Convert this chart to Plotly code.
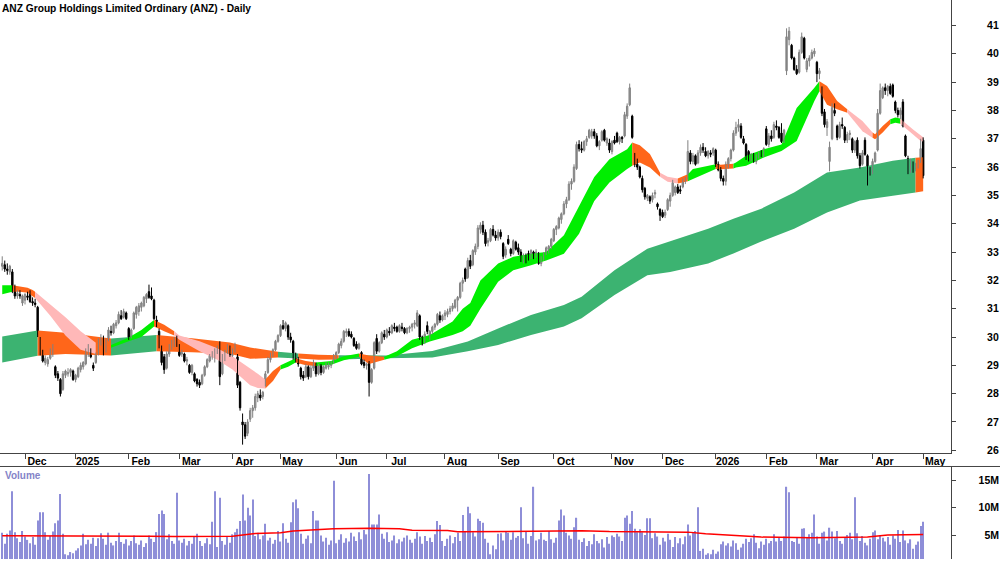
import plotly.graph_objects as go

# ---------------- price data (one bar per ASX trading day, index 0 = 19 Nov 2024) ----------------
OPEN = [
    32.5, 32.55, 32.4, 32.3, 32.3, 31.75, 31.45, 31.5, 31.2, 31.3,
    31.45, 31.55, 31.25, 31.2, 31.05, 29.9, 29.5, 29.1, 29.05, 29.25,
    29.4, 28.95, 28.7, 28.5, 28.15, 28.65, 28.7, 28.75, 28.8, 28.5,
    28.6, 28.85, 28.95, 29.05, 29.4, 29.55, 29.0, 29.1, 29.4, 29.85,
    29.95, 29.5, 29.9, 30.2, 30.15, 30.4, 30.5, 30.75, 30.7, 30.85,
    30.3, 30.0, 30.3, 30.8, 30.9, 31.05, 31.1, 31.35, 31.6, 31.45,
    31.3, 30.6, 30.2, 29.65, 29.3, 28.9, 29.4, 29.65, 29.75, 30.0,
    29.7, 29.4, 29.4, 29.15, 29.0, 28.75, 28.7, 28.5, 28.4, 28.35,
    28.65, 28.95, 29.15, 29.3, 29.4, 29.55, 29.7, 28.7, 29.25, 29.45,
    29.65, 29.35, 29.55, 29.3, 28.4, 27.0, 26.9, 26.6, 27.1, 27.4,
    27.5, 27.85, 27.95, 27.9, 28.3, 28.75, 29.2, 29.35, 29.55, 29.85,
    30.05, 30.4, 30.3, 30.4, 30.0, 29.85, 29.3, 29.2, 28.9, 28.65,
    28.6, 28.95, 28.6, 28.9, 29.05, 28.7, 29.0, 28.75, 28.9, 28.95,
    29.0, 29.1, 29.35, 29.45, 29.7, 29.85, 30.15, 30.2, 30.1, 29.95,
    29.75, 29.6, 29.45, 29.1, 29.0, 29.1, 28.4, 28.9, 29.95, 29.5,
    29.8, 30.1, 30.0, 30.2, 30.15, 30.35, 30.35, 30.2, 30.35, 30.3,
    30.15, 30.3, 30.35, 30.45, 30.4, 30.75, 30.0, 29.8, 30.4, 30.0,
    30.2, 30.35, 30.45, 30.75, 30.6, 30.75, 30.8, 30.9, 31.0, 31.05,
    31.3, 31.4, 31.9, 32.4, 32.1, 32.7, 32.55, 33.0, 33.2, 33.8,
    33.95, 33.7, 33.35, 33.4, 33.8, 33.6, 33.5, 33.7, 33.3, 32.9,
    33.45, 33.1, 32.95, 33.35, 33.15, 33.0, 32.7, 32.85, 32.95, 32.8,
    33.0, 32.85, 32.95, 32.6, 32.75, 32.95, 33.1, 33.2, 33.4, 33.8,
    33.85, 34.15, 34.35, 34.7, 34.85, 35.4, 35.5, 35.95, 36.8, 36.65,
    36.6, 36.9, 37.05, 37.1, 37.25, 37.1, 36.75, 36.95, 37.3, 36.85,
    36.85, 36.55, 36.95, 37.2, 36.9, 37.05, 37.1, 37.8, 38.2, 37.8,
    36.4, 36.1, 36.0, 35.6, 35.25, 34.9, 34.95, 34.85, 35.05, 34.7,
    34.5, 34.4, 34.3, 34.5, 34.8, 35.0, 35.1, 35.3, 35.2, 35.3,
    35.5, 35.6, 36.5, 36.2, 36.4, 36.15, 36.5, 36.7, 36.55, 36.4,
    36.5, 36.5, 36.6, 36.1, 35.9, 35.6, 35.5, 36.05, 36.3, 36.6,
    37.2, 37.4, 37.45, 37.0, 36.8, 36.55, 36.3, 36.4, 36.2, 36.4,
    36.55, 36.4, 37.35, 36.8, 37.1, 37.05, 37.45, 37.4, 37.2, 36.9,
    39.4, 40.5, 40.3, 39.85, 39.45, 39.35, 40.05, 40.55, 39.45, 39.75,
    39.85, 40.0, 39.7, 39.3, 38.8, 37.95, 37.4, 36.2, 37.0, 38.0,
    37.45, 37.05, 37.5, 37.4, 36.95, 37.15, 37.0, 36.6, 36.95, 36.4,
    36.1, 36.95, 36.4, 35.85, 35.8, 36.2, 36.6, 37.9, 38.45, 38.8,
    38.7, 38.85, 38.9, 38.3, 38.0, 37.85, 38.3, 37.1, 36.3, 35.95,
    36.1, 35.95, 36.1, 36.2, 36.95,
]
HIGH = [
    32.85, 32.7, 32.6, 32.55, 32.4, 31.85, 31.65, 31.65, 31.5, 31.55,
    31.6, 31.65, 31.4, 31.35, 31.1, 30.0, 29.55, 29.35, 29.3, 29.6,
    29.75, 29.0, 28.8, 28.55, 28.8, 28.85, 28.9, 28.9, 28.85, 28.7,
    28.95, 29.1, 29.15, 29.6, 29.75, 29.6, 29.1, 29.45, 29.95, 30.1,
    30.05, 29.95, 30.35, 30.4, 30.5, 30.6, 30.9, 30.95, 31.0, 30.9,
    30.35, 30.3, 30.9, 31.1, 31.2, 31.25, 31.45, 31.55, 31.85, 31.75,
    31.35, 30.75, 30.3, 29.7, 29.4, 29.5, 29.75, 29.9, 30.0, 30.05,
    29.75, 29.55, 29.45, 29.3, 29.05, 29.05, 28.75, 28.55, 28.5, 28.7,
    29.0, 29.25, 29.4, 29.5, 29.6, 29.7, 29.85, 29.4, 29.55, 29.75,
    29.7, 29.6, 29.8, 29.4, 28.45, 27.3, 27.0, 27.1, 27.5, 27.6,
    28.0, 28.1, 28.15, 28.1, 28.8, 29.3, 29.45, 29.6, 29.9, 30.1,
    30.45, 30.6, 30.55, 30.45, 30.15, 29.9, 29.45, 29.3, 28.95, 28.8,
    29.05, 29.0, 29.0, 29.2, 29.1, 29.05, 29.05, 29.0, 29.1, 29.1,
    29.15, 29.4, 29.5, 29.8, 29.95, 30.25, 30.3, 30.3, 30.2, 30.0,
    29.85, 29.8, 29.5, 29.2, 29.1, 29.15, 28.9, 29.85, 30.1, 29.85,
    30.2, 30.25, 30.3, 30.35, 30.45, 30.5, 30.4, 30.45, 30.5, 30.35,
    30.35, 30.4, 30.5, 30.6, 30.95, 30.8, 30.05, 30.2, 30.55, 30.25,
    30.4, 30.5, 30.85, 30.9, 30.8, 30.95, 31.0, 31.1, 31.2, 31.35,
    31.45, 31.95, 32.1, 32.45, 32.8, 32.9, 33.1, 33.3, 33.95, 34.05,
    34.1, 33.8, 33.5, 33.85, 33.95, 33.75, 33.8, 33.8, 33.35, 33.2,
    33.6, 33.15, 33.45, 33.4, 33.3, 33.1, 32.95, 32.95, 33.05, 33.1,
    33.05, 33.1, 33.0, 32.85, 33.0, 33.2, 33.25, 33.5, 33.85, 33.95,
    34.25, 34.4, 34.8, 34.95, 35.5, 35.6, 36.1, 36.9, 36.95, 36.9,
    36.95, 37.1, 37.35, 37.35, 37.35, 37.2, 36.95, 37.3, 37.35, 37.05,
    37.0, 36.95, 37.1, 37.25, 37.1, 37.1, 37.95, 38.25, 38.95, 37.85,
    36.5, 36.3, 36.05, 35.7, 35.3, 35.05, 35.0, 35.1, 35.2, 34.75,
    34.55, 34.5, 34.5, 34.9, 35.1, 35.55, 35.35, 35.4, 35.35, 35.6,
    35.65, 36.95, 36.6, 36.5, 36.45, 36.6, 36.8, 36.85, 36.7, 36.6,
    36.6, 36.7, 36.65, 36.2, 36.0, 35.7, 36.2, 36.35, 36.65, 37.3,
    37.6, 37.7, 37.55, 37.1, 36.85, 36.6, 36.5, 36.5, 36.45, 36.55,
    36.6, 36.7, 37.45, 37.2, 37.3, 37.6, 37.65, 37.45, 37.55, 37.35,
    40.9, 40.95, 40.35, 39.9, 39.6, 40.15, 40.75, 40.6, 39.85, 39.95,
    40.15, 40.2, 39.75, 39.5, 38.85, 38.05, 37.7, 36.9, 38.25, 38.25,
    37.5, 37.6, 37.75, 37.45, 37.25, 37.3, 37.05, 36.95, 37.05, 36.5,
    36.6, 37.05, 36.45, 36.0, 36.3, 36.55, 38.05, 38.95, 38.85, 38.95,
    38.9, 38.95, 38.95, 38.35, 38.1, 38.1, 38.4, 37.15, 36.4, 36.3,
    36.2, 36.15, 36.25, 37.0, 37.05,
]
LOW = [
    32.35, 32.3, 32.2, 32.2, 31.55, 31.35, 31.35, 31.35, 31.1, 31.15,
    31.3, 31.2, 31.1, 31.05, 30.0, 29.35, 29.1, 29.0, 28.95, 29.2,
    29.3, 28.55, 28.45, 27.9, 28.1, 28.55, 28.6, 28.6, 28.45, 28.4,
    28.55, 28.75, 28.85, 29.0, 29.3, 29.25, 28.8, 29.05, 29.35, 29.7,
    29.35, 29.45, 29.85, 30.05, 30.1, 30.3, 30.45, 30.6, 30.65, 30.6,
    29.9, 29.95, 30.25, 30.65, 30.75, 30.9, 31.05, 31.2, 31.35, 31.3,
    30.6, 30.35, 29.6, 29.0, 28.7, 28.85, 29.3, 29.55, 29.65, 29.65,
    29.3, 29.3, 29.1, 29.0, 28.7, 28.65, 28.4, 28.25, 28.2, 28.3,
    28.6, 28.9, 29.1, 29.2, 29.1, 29.4, 28.3, 28.65, 29.15, 29.4,
    29.3, 29.3, 29.45, 28.2, 27.4, 26.2, 26.4, 26.5, 27.0, 27.15,
    27.4, 27.7, 27.75, 27.8, 28.25, 28.7, 29.1, 29.3, 29.5, 29.8,
    30.0, 30.25, 30.2, 29.9, 29.8, 29.2, 29.1, 28.95, 28.5, 28.45,
    28.55, 28.5, 28.55, 28.8, 28.6, 28.65, 28.65, 28.7, 28.85, 28.85,
    28.9, 29.05, 29.2, 29.4, 29.6, 29.8, 30.0, 30.0, 29.95, 29.65,
    29.55, 29.55, 29.0, 28.9, 28.85, 27.9, 28.35, 28.85, 29.4, 29.45,
    29.75, 29.9, 29.95, 30.05, 30.1, 30.2, 30.15, 30.15, 30.2, 30.1,
    30.1, 30.15, 30.2, 30.3, 30.35, 29.9, 29.7, 29.75, 30.1, 29.9,
    30.1, 30.25, 30.4, 30.5, 30.55, 30.6, 30.7, 30.8, 30.9, 31.0,
    30.9, 31.35, 31.6, 31.95, 32.05, 32.4, 32.5, 32.9, 33.1, 33.65,
    33.6, 33.2, 33.2, 33.35, 33.55, 33.4, 33.4, 33.45, 32.75, 32.8,
    33.25, 32.85, 32.9, 33.05, 32.9, 32.65, 32.6, 32.6, 32.7, 32.75,
    32.75, 32.8, 32.55, 32.5, 32.7, 32.9, 32.95, 33.1, 33.35, 33.6,
    33.8, 34.0, 34.3, 34.55, 34.8, 35.2, 35.45, 35.9, 36.55, 36.5,
    36.55, 36.75, 37.0, 37.0, 37.0, 36.7, 36.6, 36.9, 36.9, 36.75,
    36.5, 36.45, 36.8, 36.85, 36.8, 36.85, 37.05, 37.7, 38.15, 37.0,
    36.0, 35.9, 35.6, 35.1, 34.85, 34.8, 34.7, 34.75, 34.9, 34.5,
    34.1, 34.2, 34.2, 34.45, 34.6, 34.95, 35.0, 35.05, 35.05, 35.25,
    35.4, 35.55, 36.1, 36.1, 36.05, 36.1, 36.4, 36.5, 36.35, 36.3,
    36.35, 36.4, 36.0, 35.85, 35.5, 35.35, 35.35, 35.95, 36.2, 36.55,
    37.1, 37.25, 37.0, 36.8, 36.25, 36.2, 36.2, 36.15, 36.1, 36.3,
    36.35, 36.35, 36.75, 36.7, 36.9, 37.0, 37.3, 37.0, 36.85, 36.85,
    39.25, 40.3, 39.8, 39.4, 39.25, 39.3, 40.0, 39.8, 39.35, 39.55,
    39.8, 39.9, 39.0, 39.1, 37.8, 37.4, 37.1, 35.85, 36.95, 37.8,
    36.95, 37.0, 37.35, 36.85, 36.85, 36.95, 36.5, 36.5, 36.3, 35.95,
    36.05, 36.4, 35.35, 35.7, 35.75, 36.15, 36.55, 37.85, 38.4, 38.55,
    38.5, 38.55, 38.45, 37.9, 37.75, 37.7, 37.4, 36.35, 35.75, 35.8,
    35.8, 35.85, 35.95, 36.15, 35.6,
]
CLOSE = [
    32.6, 32.4, 32.35, 32.5, 31.7, 31.45, 31.55, 31.45, 31.45, 31.5,
    31.4, 31.25, 31.2, 31.15, 30.1, 29.4, 29.15, 29.25, 29.2, 29.5,
    29.6, 28.65, 28.55, 28.0, 28.7, 28.8, 28.75, 28.85, 28.5, 28.65,
    28.9, 29.0, 29.1, 29.5, 29.6, 29.3, 28.9, 29.4, 29.9, 29.95,
    29.45, 29.9, 30.25, 30.15, 30.45, 30.5, 30.8, 30.65, 30.9, 30.65,
    29.95, 30.25, 30.85, 31.05, 31.1, 31.2, 31.4, 31.5, 31.4, 31.35,
    30.65, 30.45, 29.7, 29.1, 28.85, 29.4, 29.7, 29.8, 29.9, 29.7,
    29.35, 29.45, 29.15, 29.2, 28.75, 29.0, 28.45, 28.35, 28.3, 28.65,
    28.95, 29.2, 29.35, 29.45, 29.5, 29.6, 28.6, 29.3, 29.5, 29.7,
    29.35, 29.55, 29.7, 28.3, 27.5, 26.9, 26.5, 27.0, 27.4, 27.5,
    27.9, 28.0, 27.85, 28.05, 28.7, 29.2, 29.35, 29.55, 29.85, 30.05,
    30.4, 30.3, 30.5, 30.0, 29.9, 29.3, 29.2, 29.05, 28.6, 28.55,
    28.95, 28.6, 28.9, 29.1, 28.7, 29.0, 28.75, 28.95, 29.05, 29.0,
    29.1, 29.35, 29.45, 29.75, 29.85, 30.2, 30.2, 30.05, 30.0, 29.7,
    29.6, 29.75, 29.05, 29.0, 29.0, 28.4, 28.85, 29.8, 29.5, 29.8,
    30.15, 30.0, 30.25, 30.15, 30.4, 30.3, 30.2, 30.4, 30.3, 30.15,
    30.3, 30.35, 30.45, 30.5, 30.85, 30.0, 29.75, 30.1, 30.2, 30.2,
    30.35, 30.45, 30.8, 30.6, 30.75, 30.85, 30.9, 31.0, 31.1, 31.3,
    31.4, 31.9, 32.0, 32.05, 32.7, 32.5, 33.05, 33.2, 33.85, 33.95,
    33.7, 33.3, 33.4, 33.8, 33.6, 33.5, 33.7, 33.55, 32.85, 33.1,
    33.3, 32.95, 33.4, 33.1, 33.0, 32.7, 32.85, 32.75, 32.8, 33.05,
    32.8, 33.0, 32.6, 32.75, 32.95, 33.15, 33.2, 33.45, 33.8, 33.9,
    34.2, 34.35, 34.7, 34.85, 35.4, 35.5, 36.0, 36.8, 36.65, 36.6,
    36.9, 37.0, 37.3, 37.25, 37.1, 36.75, 36.9, 37.25, 36.95, 37.0,
    36.6, 36.9, 36.85, 36.9, 37.05, 37.0, 37.85, 38.15, 38.8, 37.05,
    36.1, 36.0, 35.65, 35.2, 34.95, 35.0, 34.8, 35.0, 35.1, 34.6,
    34.3, 34.25, 34.4, 34.85, 35.0, 35.45, 35.3, 35.1, 35.15, 35.55,
    35.6, 36.55, 36.2, 36.4, 36.1, 36.5, 36.7, 36.6, 36.4, 36.55,
    36.45, 36.65, 36.1, 35.9, 35.6, 35.5, 36.1, 36.3, 36.6, 37.2,
    37.4, 37.5, 37.05, 36.85, 36.3, 36.25, 36.45, 36.2, 36.4, 36.5,
    36.4, 36.65, 36.8, 37.1, 37.0, 37.5, 37.4, 37.05, 36.9, 37.3,
    40.6, 40.8, 39.85, 39.45, 39.3, 40.05, 40.6, 39.85, 39.75, 39.85,
    40.05, 40.1, 39.3, 39.4, 37.9, 37.5, 37.6, 36.7, 38.1, 37.9,
    37.05, 37.5, 37.45, 36.95, 37.15, 37.2, 36.6, 36.9, 36.4, 36.05,
    36.5, 36.45, 35.85, 35.8, 36.2, 36.5, 37.9, 38.7, 38.8, 38.7,
    38.85, 38.6, 38.5, 38.0, 37.85, 38.0, 37.45, 36.4, 35.9, 36.15,
    35.95, 36.1, 36.2, 36.65, 35.7,
]
# volume in millions of shares
VOLUME_M = [
    5.5, 3.5, 5.3, 5.9, 13.0, 5.6, 4.5, 3.8, 5.8, 4.8,
    4.2, 3.6, 4.7, 3.3, 7.7, 9.2, 9.2, 5.6, 4.2, 4.9,
    5.7, 7.2, 7.7, 12.5, 5.3, 1.6, 1.4, 2.0, 1.8, 2.3,
    2.7, 3.2, 5.3, 3.4, 4.2, 3.5, 4.6, 3.1, 4.5, 5.4,
    4.4, 3.3, 5.5, 3.7, 3.2, 4.0, 5.5, 3.8, 3.5, 4.3,
    3.2, 4.0, 5.0, 3.6, 3.3, 4.1, 2.9, 3.6, 5.0, 4.4,
    3.8, 5.6, 8.9, 9.5, 8.9, 4.3, 5.2, 4.0, 3.5, 12.7,
    4.1, 3.7, 4.4, 3.2, 4.0, 3.5, 4.8, 5.3, 4.0, 3.1,
    3.6, 4.5, 3.4, 7.5, 13.0, 2.9, 11.8, 4.0, 3.3, 4.8,
    3.7, 5.2, 5.6, 6.2, 7.6, 12.4, 7.7, 10.0, 8.6, 11.5,
    4.9, 5.5, 4.3, 5.0, 7.1, 4.1, 4.6, 3.5, 4.2, 5.8,
    3.9, 7.2, 4.4, 3.7, 7.4, 11.0, 11.5, 9.9, 5.3, 3.5,
    4.4, 5.0, 3.6, 9.4, 7.7, 7.7, 5.0, 3.9, 4.6, 3.3,
    4.1, 14.9, 3.6, 4.2, 5.2, 3.7, 4.5, 3.9, 5.5, 4.8,
    4.0, 5.6, 4.3, 6.0, 5.2, 16.1, 7.0, 7.0, 7.0, 8.8,
    5.3, 4.4, 5.6, 3.8, 4.1, 5.0, 3.6, 4.3, 3.9, 4.6,
    5.0, 4.2, 3.7, 4.4, 5.6, 4.8, 3.5, 4.9, 4.0, 4.6,
    3.8, 5.2, 7.6, 6.9, 4.0, 3.1, 4.4, 5.0, 3.6, 4.7,
    5.5, 4.0, 8.7, 5.8, 10.2, 9.0, 5.6, 4.8, 8.0, 7.6,
    7.3, 4.4, 3.7, 1.6, 3.2, 2.5, 5.3, 5.4, 4.1, 5.7,
    5.5, 4.2, 5.6, 4.6, 4.9, 10.1, 4.5, 5.7, 3.5, 4.9,
    13.8, 4.1, 4.3, 5.5, 4.2, 4.0, 5.8, 4.3, 3.7, 4.6,
    7.7, 9.7, 8.6, 5.5, 5.0, 4.4, 6.5, 8.2, 4.2, 3.8,
    4.5, 3.1, 4.0, 3.4, 5.2, 4.0, 3.6, 4.3, 2.8, 4.7,
    3.5, 5.0, 4.7, 5.3, 4.8, 4.0, 8.2, 8.6, 7.1, 9.4,
    6.2, 5.6, 6.1, 5.6, 5.1, 8.1, 8.1, 4.5, 5.4, 4.8,
    3.3, 4.6, 3.9, 5.3, 4.2, 2.9, 4.7, 3.6, 4.5, 3.4,
    4.8, 7.0, 5.0, 5.6, 5.8, 10.1, 2.2, 2.6, 1.5, 1.8,
    1.6, 2.4, 1.7, 2.1, 3.4, 3.9, 3.2, 3.6, 3.0, 4.1,
    3.6, 2.4, 2.8, 3.5, 4.4, 3.8, 4.5, 5.2, 3.7, 2.7,
    3.9, 3.3, 4.4, 3.6, 4.0, 5.2, 3.9, 4.6, 4.0, 4.8,
    13.8, 12.8, 4.0, 3.8, 4.6, 3.5, 6.2, 6.3, 4.6, 5.2,
    5.5, 8.8, 4.8, 3.5, 5.5, 5.7, 4.1, 6.4, 5.7, 4.5,
    5.8, 4.0, 3.5, 4.6, 5.1, 5.5, 4.3, 11.9, 5.4, 4.0,
    4.9, 3.7, 3.2, 4.4, 5.6, 5.9, 4.3, 5.1, 4.6, 3.9,
    4.7, 3.3, 5.0, 4.4, 6.0, 3.8, 5.9, 4.1, 3.6, 4.3,
    2.6, 3.3, 3.9, 6.7, 7.5,
]

# volume moving average (red line), read at its breakpoints
VOL_MA_IDX = [0, 10, 25, 40, 58, 68, 91, 95, 100, 110, 115, 122, 131, 145, 157,
              162, 176, 180, 197, 215, 229, 240, 271, 278, 290, 300, 320, 342, 350, 364]
VOL_MA = [4.95, 4.95, 4.9, 4.9, 4.85, 4.8, 4.85, 5.1, 5.35, 5.5, 5.8, 6.0, 6.2, 6.3, 6.2,
          5.95, 5.9, 5.65, 5.7, 5.7, 5.85, 5.7, 5.6, 5.3, 4.95, 4.7, 4.6, 4.7, 5.1, 5.15]

# long-term moving-average ribbon, read at breakpoints; colour code applies to the span that starts there
LONG_IDX = [0, 14, 25, 43, 61, 75, 90, 98, 109, 117, 125, 133, 140, 152, 170, 184,
            196, 209, 222, 229, 242, 255, 264, 279, 289, 300, 313, 326, 339, 352, 361, 364]
LONG_TOP = [30.02, 30.23, 30.15, 29.95, 30.07, 29.96, 29.81, 29.63, 29.48, 29.42, 29.37, 29.36,
            29.35, 29.35, 29.51, 29.84, 30.3, 30.78, 31.13, 31.42, 32.36, 33.12, 33.38, 33.82,
            34.18, 34.53, 35.1, 35.81, 35.99, 36.22, 36.33, 36.35]
LONG_BOT = [29.10, 29.34, 29.40, 29.35, 29.50, 29.46, 29.41, 29.23, 29.28, 29.24, 29.2, 29.21,
            29.23, 29.25, 29.28, 29.5, 29.72, 30.07, 30.37, 30.66, 31.48, 32.18, 32.3, 32.6,
            32.95, 33.37, 33.82, 34.4, 34.82, 34.99, 35.1, 35.15]
LONG_CODE = ['g', 'o', 'o', 'g', 'o', 'o', 'o', 'o', 'g', 'o', 'o', 'g',
             'g', 'g', 'g', 'g', 'g', 'g', 'g', 'g', 'g', 'g', 'g', 'g',
             'g', 'g', 'g', 'g', 'g', 'g', 'o', '']

# short-term moving-average ribbon
SHORT_IDX = [0, 4, 7, 10, 12, 13, 19, 25, 31, 37, 40, 43, 50, 55, 60, 64, 68, 70, 78, 85,
             91, 98, 101, 104, 107, 110, 113, 116, 120, 124, 130, 135, 141, 145, 151, 156,
             162, 169, 178, 182, 185, 189, 196, 202, 209, 215, 222, 228, 234, 240, 247, 249,
             252, 256, 260, 263, 267, 271, 273, 282, 284, 289, 290, 294, 301, 308, 314, 321,
             323, 326, 330, 334, 340, 344, 345, 348, 351, 353, 355, 356, 360, 363, 364]
SHORT_TOP = [31.83, 31.83, 31.78, 31.74, 31.66, 31.60, 31.15, 30.70, 30.20, 29.80, 29.65, 29.72,
             29.98, 30.25, 30.60, 30.43, 30.20, 30.05, 29.85, 29.60, 29.32, 28.90, 28.70, 28.50,
             28.80, 29.00, 29.12, 29.25, 29.15, 29.10, 29.15, 29.32, 29.42, 29.35, 29.30, 29.50,
             29.90, 30.07, 30.55, 31.00, 31.20, 32.00, 32.60, 32.83, 32.94, 33.00, 33.59, 34.60,
             35.65, 36.28, 36.63, 36.87, 36.77, 36.46, 35.80, 35.66, 35.60, 35.75, 35.93, 36.10,
             36.08, 36.12, 36.16, 36.40, 36.63, 36.80, 38.09, 38.80, 39.03, 38.86, 38.33, 38.04,
             37.63, 37.22, 37.16, 37.45, 37.69, 37.75, 37.72, 37.63, 37.33, 37.10, 37.05]
SHORT_BOT = [31.51, 31.60, 31.60, 31.56, 31.45, 31.38, 30.75, 30.05, 29.55, 29.40, 29.45, 29.62,
             29.85, 30.00, 30.37, 30.20, 30.05, 29.90, 29.50, 29.20, 28.85, 28.30, 28.20, 28.18,
             28.45, 28.85, 28.95, 29.10, 29.00, 28.98, 29.02, 29.18, 29.30, 29.05, 29.20, 29.32,
             29.60, 29.84, 30.07, 30.20, 30.40, 31.00, 31.95, 32.36, 32.53, 32.70, 32.94, 33.65,
             34.80, 35.46, 35.93, 36.05, 36.16, 35.99, 35.66, 35.48, 35.42, 35.50, 35.58, 35.93,
             35.92, 35.95, 35.99, 36.05, 36.34, 36.57, 36.92, 38.33, 38.68, 38.20, 38.04, 37.92,
             37.27, 37.04, 36.98, 37.22, 37.51, 37.57, 37.53, 37.45, 37.15, 36.92, 36.90]
SHORT_CODE = ['g', 'o', 'o', 'o', 'o', 'p', 'p', 'p', 'p', 'o', 'o', 'g',
              'g', 'g', 'o', 'o', 'p', 'p', 'p', 'p', 'p', 'p', 'p', 'o',
              'o', 'g', 'g', 'o', 'o', 'g', 'g', 'g', 'o', 'o', 'g', 'g',
              'g', 'g', 'g', 'g', 'g', 'g', 'g', 'g', 'g', 'g', 'g', 'g',
              'g', 'g', 'g', 'o', 'o', 'o', 'p', 'p', 'o', 'g', 'g', 'o',
              'o', 'g', 'g', 'g', 'g', 'g', 'g', 'g', 'o', 'o', 'o', 'p',
              'p', 'o', 'o', 'o', 'g', 'g', 'p', 'p', 'p', 'p', '']

# x-axis month boundaries (index of first trading day of each month)
MONTH_START_IDX = [9, 29, 50, 70, 91, 110, 132, 152, 175, 196, 218, 241, 261, 282, 302, 322, 344, 364]
MONTH_LABELS = ["Dec", "2025", "Feb", "Mar", "Apr", "May", "Jun", "Jul", "Aug", "Sep",
                "Oct", "Nov", "Dec", "2026", "Feb", "Mar", "Apr", "May"]
PRICE_TICKS = list(range(26, 42))
VOL_TICKS = [5, 10, 15]
VOL_TICK_TEXT = ["5M", "10M", "15M"]

TITLE = "ANZ Group Holdings Limited Ordinary (ANZ) - Daily"

# ---------------- styling ----------------
W, H = 1000, 562
PLOT_RIGHT = 951
PRICE_BOTTOM_PX = 455
VOL_TOP_PX = 469
FONT = "Liberation Sans, Arial, sans-serif"
AXIS_COL = "#444444"
SHORT_PAL = {'g': '#00EE00', 'o': '#FF661A', 'p': '#FFB8B8'}
LONG_PAL = {'g': '#3CB371', 'o': '#FF661A'}
UP_LINE = '#808080'
DOWN_COL = '#000000'
BODY_W = 0.55

X = list(range(len(CLOSE)))
fig = go.Figure()


def add_ribbon(idx, top, bot, codes, pal):
    n = len(idx)
    i = 0
    while i < n - 1:
        c = codes[i]
        j = i
        while j < n - 1 and codes[j] == c:
            j += 1
        xs = idx[i:j + 1]
        ts = top[i:j + 1]
        bs = bot[i:j + 1]
        fig.add_trace(go.Scatter(
            x=xs + xs[::-1], y=ts + bs[::-1], mode='lines', fill='toself',
            fillcolor=pal[c], line=dict(width=0, color=pal[c]),
            hoverinfo='skip', showlegend=False, xaxis='x', yaxis='y'))
        i = j


add_ribbon(LONG_IDX, LONG_TOP, LONG_BOT, LONG_CODE, LONG_PAL)
add_ribbon(SHORT_IDX, SHORT_TOP, SHORT_BOT, SHORT_CODE, SHORT_PAL)

# candles: wicks (line segments) and bodies (floating bars), split by direction
up = [i for i in X if CLOSE[i] >= OPEN[i]]
dn = [i for i in X if CLOSE[i] < OPEN[i]]


def wick_xy(ids):
    xs, ys = [], []
    for i in ids:
        xs += [i, i, None]
        ys += [LOW[i], HIGH[i], None]
    return xs, ys


for ids, col in ((up, UP_LINE), (dn, DOWN_COL)):
    wx, wy = wick_xy(ids)
    fig.add_trace(go.Scatter(x=wx, y=wy, mode='lines', line=dict(color=col, width=1),
                             hoverinfo='skip', showlegend=False, xaxis='x', yaxis='y'))

fig.add_trace(go.Bar(
    x=up, base=[OPEN[i] for i in up], y=[max(CLOSE[i] - OPEN[i], 0.03) for i in up],
    width=BODY_W, marker=dict(color='#FFFFFF', line=dict(color=UP_LINE, width=1)),
    hoverinfo='skip', showlegend=False, xaxis='x', yaxis='y'))
fig.add_trace(go.Bar(
    x=dn, base=[CLOSE[i] for i in dn], y=[OPEN[i] - CLOSE[i] for i in dn],
    width=BODY_W, marker=dict(color=DOWN_COL, line=dict(color=DOWN_COL, width=1)),
    hoverinfo='skip', showlegend=False, xaxis='x', yaxis='y'))

fig.add_trace(go.Bar(
    x=X, y=VOLUME_M, width=0.45, marker=dict(color='#8E8ED8', line=dict(width=0)),
    hoverinfo='skip', showlegend=False, xaxis='x2', yaxis='y2'))
fig.add_trace(go.Scatter(
    x=VOL_MA_IDX, y=VOL_MA, mode='lines', line=dict(color='#FF0000', width=1.5),
    hoverinfo='skip', showlegend=False, xaxis='x2', yaxis='y4'))

xr = [-0.88, 375.0]
vr = [0.74, 17.47]
tickfont = dict(family=FONT, size=10.5, color='#000000', weight='bold')

fig.update_layout(
    width=W, height=H, margin=dict(l=0, r=0, t=0, b=0),
    paper_bgcolor='white', plot_bgcolor='white', showlegend=False, barmode='overlay',
    title=dict(text=TITLE, x=0.002, xanchor='left', xref='container',
               y=1 - 8.5 / H, yanchor='middle', yref='container',
               font=dict(family=FONT, size=10.2, color='#000000', weight='bold')),
    xaxis=dict(domain=[0, PLOT_RIGHT / W], range=xr, anchor='y', showgrid=False, zeroline=False,
               showline=True, linecolor=AXIS_COL, linewidth=1,
               tickmode='array', tickvals=MONTH_START_IDX, ticktext=MONTH_LABELS,
               ticks='outside', ticklen=5, tickcolor=AXIS_COL, tickwidth=1,
               ticklabelshift=12, ticklabelstandoff=-6, tickfont=tickfont),
    yaxis=dict(domain=[(H - PRICE_BOTTOM_PX) / H, 1], range=[25.92, 41.9], anchor='x', side='right',
               showgrid=False, zeroline=False, showline=True, linecolor=AXIS_COL, linewidth=1,
               tickmode='array', tickvals=PRICE_TICKS, ticks='outside', ticklen=4,
               tickcolor=AXIS_COL, ticklabelstandoff=29, tickfont=tickfont),
    xaxis2=dict(domain=[0, PLOT_RIGHT / W], range=xr, anchor='y2', showgrid=False, zeroline=False,
                showline=False, showticklabels=False, ticks=''),
    yaxis2=dict(domain=[0, (H - VOL_TOP_PX) / H], range=vr, anchor='x2', side='right',
                showgrid=False, zeroline=False, showline=True, linecolor=AXIS_COL, linewidth=1,
                tickmode='array', tickvals=VOL_TICKS, ticks='outside', ticklen=4,
                tickcolor=AXIS_COL, showticklabels=False),
    yaxis4=dict(overlaying='y2', side='left', anchor='free', position=0.999, range=vr,
                showgrid=False, zeroline=False, showline=False, ticks='',
                tickmode='array', tickvals=VOL_TICKS, ticktext=VOL_TICK_TEXT, tickfont=tickfont),
    shapes=[dict(type='line', xref='paper', yref='paper', x0=0, x1=1,
                 y0=(H - VOL_TOP_PX) / H, y1=(H - VOL_TOP_PX) / H,
                 line=dict(color=AXIS_COL, width=1))],
    annotations=[dict(text='Volume', xref='paper', yref='paper', x=0.003, y=(H - 478) / H,
                      xanchor='left', yanchor='middle', showarrow=False,
                      font=dict(family=FONT, size=10, color='#8484C8', weight='bold'))],
)

fig.write_html("out.html")
